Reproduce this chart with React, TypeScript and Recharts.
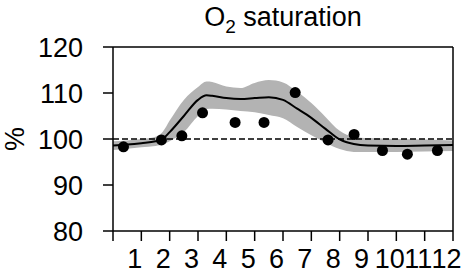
import React from 'react';
import { ComposedChart, Area, Line, Scatter, XAxis, YAxis, ReferenceLine } from 'recharts';

const curveX = [0, 0.5, 1, 1.5, 1.75, 2, 2.5, 3, 3.3, 3.5, 4, 4.5, 5, 5.5, 6, 6.5, 7, 7.5, 8, 8.5, 9, 10, 11, 12];
const curveMean = [98.6, 98.8, 99.1, 99.5, 100.0, 101.5, 105.0, 108.5, 109.5, 109.4, 108.9, 108.7, 108.9, 109.1, 108.5, 106.6, 104.6, 102.2, 99.9, 98.9, 98.6, 98.5, 98.6, 98.7];
const curveLow = [97.6, 97.9, 98.2, 98.5, 98.8, 99.5, 101.5, 105.0, 106.5, 106.6, 106.4, 106.1, 105.8, 105.2, 104.5, 102.6, 100.8, 99.2, 97.8, 97.2, 97.2, 97.2, 97.3, 97.4];
const curveHigh = [99.5, 99.7, 100.0, 100.5, 101.5, 104.0, 108.5, 111.3, 112.5, 112.4, 111.4, 111.1, 112.2, 112.8, 112.3, 110.3, 107.8, 104.8, 101.8, 100.5, 100.2, 100.0, 99.9, 99.7];

const dotX = [0.37, 1.71, 2.43, 3.16, 4.31, 5.33, 6.43, 7.59, 8.51, 9.51, 10.39, 11.45];
const dotY = [98.3, 99.8, 100.7, 105.7, 103.6, 103.6, 110.1, 99.8, 101.0, 97.5, 96.7, 97.5];

const xTicks = [0, 1, 2, 3, 4, 5, 6, 7, 8, 9, 10, 11, 12];
const xTickLabels = ['', '1', '2', '3', '4', '5', '6', '7', '8', '9', '10', '11', '12'];
const yTicks = [80, 90, 100, 110, 120];

const curveData = curveX.map((x, i) => ({ x, mean: curveMean[i], band: [curveLow[i], curveHigh[i]] }));
const dotData = dotX.map((x, i) => ({ x, y: dotY[i] }));

const FONT = '"Liberation Sans", Arial, sans-serif';

const XTick = (props: any) => {
  const { x, y, payload } = props;
  const idx = xTicks.indexOf(payload.value);
  const label = idx >= 0 ? xTickLabels[idx] : '';
  return (
    <text x={x - 6.5} y={y} dy="0.71em" textAnchor="middle" fontSize={27} fontFamily={FONT} fill="#000">
      {label}
    </text>
  );
};

const Dot = (props: any) => {
  const { cx, cy } = props;
  return <circle cx={cx} cy={cy} r={5.5} fill="#000" />;
};

const YLabel = (props: any) => {
  const vb = props.viewBox || {};
  const cy = (vb.y ?? 47) + (vb.height ?? 184) / 2;
  return (
    <text
      transform={`translate(24, ${cy}) rotate(-90)`}
      textAnchor="middle"
      fontSize={27}
      fontFamily={FONT}
      fill="#000"
    >
      %
    </text>
  );
};

export default function App() {
  return (
    <div style={{ position: 'absolute', left: 0, top: 0, width: 464, height: 279, background: '#fff' }}>
      <div
        style={{
          position: 'absolute',
          left: 113,
          width: 340,
          top: 4,
          textAlign: 'center',
          fontFamily: FONT,
          fontSize: 27,
          lineHeight: '27px',
          color: '#000',
          zIndex: 2,
        }}
      >
        O<span style={{ fontSize: 19, position: 'relative', top: 7 }}>2</span> saturation
      </div>
      <ComposedChart width={464} height={279} margin={{ top: 47, right: 11, bottom: 0, left: 0 }}>
        <XAxis
          dataKey="x"
          type="number"
          domain={[0, 12]}
          ticks={xTicks}
          interval={0}
          height={48}
          tickSize={10}
          tickMargin={8}
          tick={<XTick />}
          axisLine={{ stroke: '#000', strokeWidth: 1.5 }}
          tickLine={{ stroke: '#000', strokeWidth: 1.5 }}
          allowDuplicatedCategory={false}
        />
        <YAxis
          type="number"
          domain={[80, 120]}
          ticks={yTicks}
          interval={0}
          width={113}
          tickSize={10}
          tickMargin={20}
          tick={{ fontSize: 27, fontFamily: FONT, fill: '#000' }}
          axisLine={{ stroke: '#000', strokeWidth: 1.5 }}
          tickLine={{ stroke: '#000', strokeWidth: 1.5 }}
          label={<YLabel />}
        />
        <Area
          data={curveData}
          dataKey="band"
          type="monotone"
          stroke="none"
          fill="#b3b3b3"
          fillOpacity={1}
          isAnimationActive={false}
          activeDot={false}
        />
        <ReferenceLine y={100} stroke="#000" strokeWidth={1.5} strokeDasharray="6 3" />
        <ReferenceLine y={120} stroke="#000" strokeWidth={1.5} />
        <ReferenceLine x={12} stroke="#000" strokeWidth={1.5} />
        <Line
          data={curveData}
          dataKey="mean"
          type="monotone"
          stroke="#000"
          strokeWidth={2}
          dot={false}
          activeDot={false}
          isAnimationActive={false}
        />
        <Scatter data={dotData} dataKey="y" shape={<Dot />} isAnimationActive={false} />
      </ComposedChart>
    </div>
  );
}
